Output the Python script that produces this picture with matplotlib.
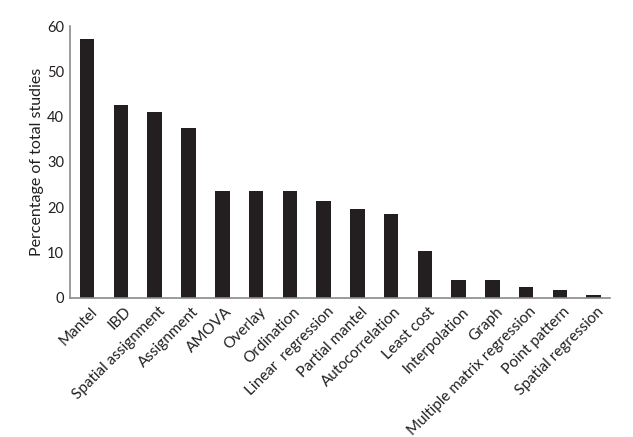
import matplotlib
matplotlib.use('Agg')
import matplotlib.pyplot as plt
from matplotlib.transforms import ScaledTranslation

methods = ['Mantel', 'IBD', 'Spatial assignment', 'Assignment', 'AMOVA', 'Overlay',
           'Ordination', 'Linear  regression', 'Partial mantel', 'Autocorrelation',
           'Least cost', 'Interpolation', 'Graph', 'Multiple matrix regression',
           'Point pattern', 'Spatial regression']
percent = [57.1, 42.5, 41.0, 37.5, 23.6, 23.6, 23.6, 21.4, 19.6, 18.5,
           10.3, 3.9, 3.9, 2.4, 1.7, 0.6]

plt.rcParams['font.family'] = 'Lato'

fig = plt.figure(figsize=(6.33, 4.37), dpi=100)
ax = fig.add_axes([0.11, 0.319, 0.854, 0.6215])

x = list(range(len(methods)))
ax.bar(x, percent, width=0.43, color='#231f20')

ax.set_xlim(-0.52, 15.49)
ax.set_ylim(0, 60)
ax.set_yticks([0, 10, 20, 30, 40, 50, 60])
ax.set_xticks(x)
ax.set_xticklabels(methods, rotation=45, ha='right', rotation_mode='anchor')
ax.tick_params(axis='both', length=0, colors='#231f20')
ax.tick_params(axis='y', pad=4, labelsize=10.5)
ax.tick_params(axis='x', pad=5, labelsize=11)
# nudge the rotated labels a little to the right, like the original
shift = ScaledTranslation(3 / 100, 0, fig.dpi_scale_trans)
for lbl in ax.get_xticklabels():
    lbl.set_transform(lbl.get_transform() + shift)
ax.set_ylabel('Percentage of total studies', fontsize=11.5, color='#231f20', labelpad=2)

for side in ['top', 'right']:
    ax.spines[side].set_visible(False)
for side in ['left', 'bottom']:
    ax.spines[side].set_color('#8a8a8a')
    ax.spines[side].set_linewidth(1.2)

fig.savefig('out.png', dpi=100)
